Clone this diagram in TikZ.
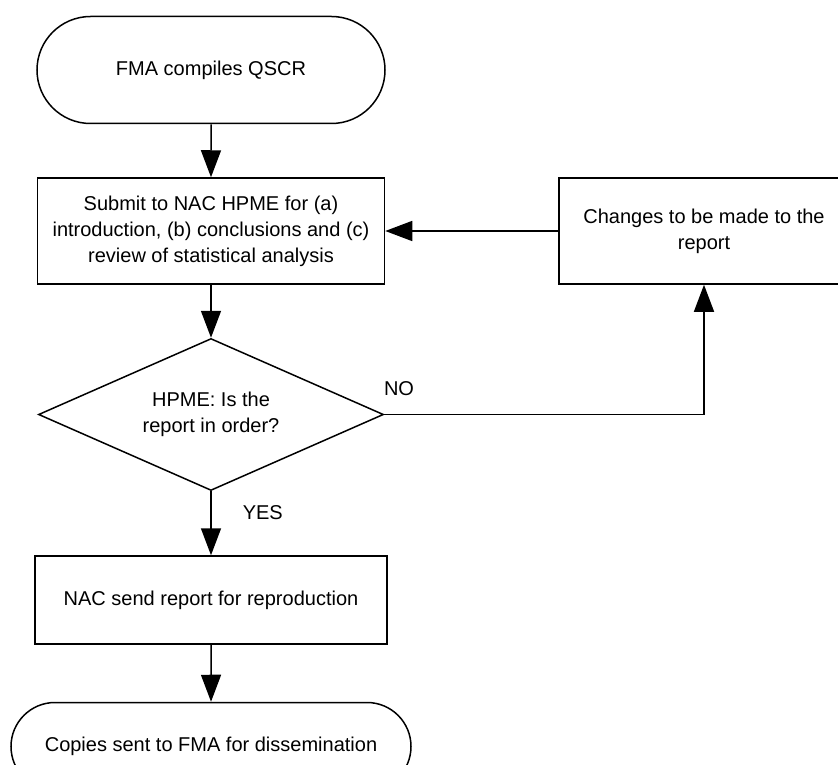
\documentclass[tikz,border=0pt]{standalone}
\usepackage{fontspec}
\setmainfont{Liberation Sans}
\usetikzlibrary{positioning, shapes.geometric, shapes.misc, arrows.meta}

\begin{document}
\begin{tikzpicture}[x=1pt, y=-1pt, node distance={53pt}, line width=1.5pt,
		>={Triangle[length=27pt,width=20pt]}, font=\fontsize{20}{26}\selectfont,
		term/.style = {draw, rounded rectangle, inner sep=0pt},
		proc/.style = {draw, rectangle, align=center, inner sep=0pt},
		dec/.style = {draw, diamond, aspect=2.27, align=center, inner sep=0pt},
		lbl/.style = {inner sep=0pt}]
		\clip (0,0) rectangle (838,765);
		\node[term, minimum width=348pt, minimum height=107pt] (1) at (211,70) {FMA compiles QSCR};
		\node[proc, minimum width=347pt, minimum height=106pt] (2) [below=of 1] {Submit to NAC HPME for (a)\\ introduction, (b) conclusions and (c)\\ review of statistical analysis};
		\node[dec, minimum width=345pt, minimum height=152pt] (3) [below=of 2] {HPME: Is the\\ report in order?};
		\node[proc, minimum width=352pt, minimum height=88pt] (4) [below=64pt of 3] {NAC send report for reproduction};
		\node[term, minimum width=400pt, minimum height=88pt] (6) [below=57pt of 4] {Copies sent to FMA for dissemination};
		\node[proc, minimum width=290pt, minimum height=106pt] (5) [right=173pt of 2] {Changes to be made to the\\ report};
		
		\draw[->] (1) -- (2);
		\draw[->] (2) -- (3);
		\draw[->] (3) -- node[lbl, pos=0.33, right=31pt] {YES} (4);
		\draw[->] (4) -- (6);
		\draw[->] (3) -| node[lbl, pos=0, anchor=south west, xshift=-1pt, yshift=18pt] {NO} (5);
		\draw[->] (5) -- (2);
	\end{tikzpicture}
\end{document}
